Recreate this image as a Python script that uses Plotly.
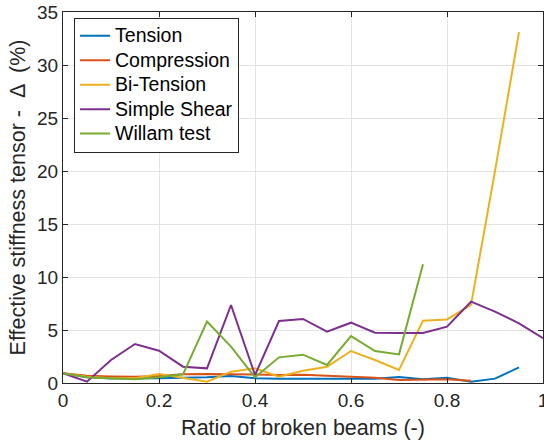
import plotly.graph_objects as go

x = [0, 0.05, 0.10, 0.15, 0.20, 0.25, 0.30, 0.35, 0.40, 0.45, 0.50,
     0.55, 0.60, 0.65, 0.70, 0.75, 0.80, 0.85, 0.90, 0.95, 1.00]

tension = [0.92, 0.54, 0.42, 0.40, 0.45, 0.50, 0.54, 0.66, 0.45, 0.40, 0.40,
           0.35, 0.40, 0.40, 0.57, 0.35, 0.50, 0.12, 0.41, 1.48]
compression = [0.92, 0.69, 0.62, 0.60, 0.66, 0.82, 0.85, 0.85, 0.80, 0.75, 0.79,
               0.69, 0.60, 0.50, 0.29, 0.29, 0.35, 0.22]
bitension = [0.92, 0.60, 0.45, 0.45, 0.85, 0.45, 0.12, 1.07, 1.38, 0.60, 1.16,
             1.54, 3.02, 2.17, 1.23, 5.88, 6.00, 7.36, 20.0, 33.1]
shear = [0.92, 0.12, 2.17, 3.68, 3.05, 1.54, 1.38, 7.36, 0.75, 5.85, 6.04,
         4.84, 5.69, 4.75, 4.72, 4.72, 5.31, 7.67, 6.73, 5.63, 4.22]
willam = [0.92, 0.54, 0.45, 0.35, 0.54, 0.82, 5.79, 3.43, 0.54, 2.42, 2.67,
          1.70, 4.43, 3.02, 2.70, 11.2]

names = ["Tension", "Compression", "Bi-Tension", "Simple Shear", "Willam test"]
colors = ["#0072BD", "#D95319", "#EDB120", "#7E2F8E", "#77AC30"]
series = [tension, compression, bitension, shear, willam]

x_ticks = [0, 0.2, 0.4, 0.6, 0.8, 1]
x_tick_labels = ["0", "0.2", "0.4", "0.6", "0.8", "1"]
y_ticks = [0, 5, 10, 15, 20, 25, 30, 35]

FONT = "Liberation Sans, Arial, sans-serif"

fig = go.Figure()
for name, col, ys in zip(names, colors, series):
    fig.add_trace(go.Scatter(
        x=x[:len(ys)], y=ys, mode="lines",
        name="<span style='font-size:19.5px'>" + name + "</span>",
        line=dict(color=col, width=2)))

axis_common = dict(
    showline=True, linecolor="#262626", linewidth=1, mirror="ticks",
    ticks="inside", ticklen=5, tickcolor="#262626",
    showgrid=True, gridcolor="#e3e3e3", gridwidth=1, zeroline=False,
    automargin=False, ticklabeloverflow="allow",
    tickfont=dict(family=FONT, size=19, color="#262626"),
)

fig.update_layout(
    width=544, height=447,
    margin=dict(l=63, r=1, t=12, b=64),
    paper_bgcolor="white", plot_bgcolor="white",
    font=dict(family=FONT, color="#262626"),
    xaxis=dict(range=[0, 1], tickvals=x_ticks, ticktext=x_tick_labels,
               title=dict(text="Ratio of broken beams (-)", font=dict(size=21.5), standoff=10),
               **axis_common),
    yaxis=dict(range=[0, 35], tickvals=y_ticks,
               title=dict(text="Effective stiffness tensor -\u00a0 Δ \u00a0(%)", font=dict(size=21.5), standoff=5),
               **axis_common),
    legend=dict(x=0.023, y=0.985, xanchor="left", yanchor="top",
                bgcolor="white", bordercolor="#262626", borderwidth=1,
                font=dict(family=FONT, size=16.5, color="black"), tracegroupgap=0,
                itemwidth=30),
    showlegend=True,
)

# remove the page's default 8px body margin so the figure sits at the window's corner
fig.write_html("out.html", config={"displayModeBar": False},
               post_script="document.body.style.margin='0';document.body.style.overflow='hidden';")
